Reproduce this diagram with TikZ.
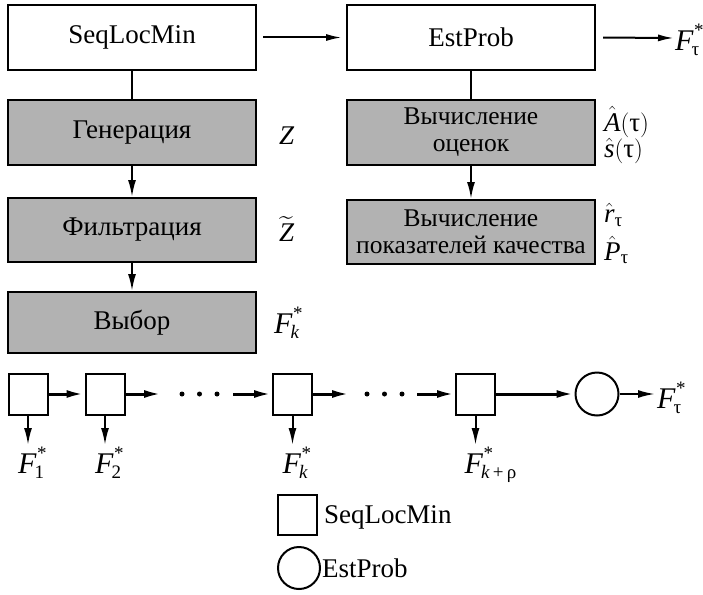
\documentclass[tikz,border=0pt]{standalone}
\usepackage{amsmath}
\usepackage{fontspec}
\setmainfont{Liberation Serif}
\usetikzlibrary{arrows.meta}
\definecolor{boxgray}{gray}{0.70}
\newcommand\scr[1]{{\fontsize{19}{19}\selectfont #1}}
\newcommand\Fst[1]{\fontsize{30}{30}\selectfont\textit{F}\kern-2pt\rlap{\kern2.5pt\raisebox{14pt}{\scr{*}}}\raisebox{-5pt}{\scr{#1}}}
\begin{document}
\begin{tikzpicture}[x=1pt,y=-1pt,
  line width=2pt,
  >={Latex[length=16pt,width=7pt]},
  txt/.style={font=\fontsize{27}{27}\selectfont},
  box/.style={txt, draw, rectangle, minimum width=248pt, inner sep=0pt, align=center},
  wbox/.style={box, fill=white},
  gbox/.style={box, fill=boxgray},
  gbox2/.style={gbox, font=\fontsize{25.5}{27}\selectfont},
  lab/.style={txt, anchor=west, inner sep=0pt},
  sq/.style={draw, rectangle, minimum width=39pt, minimum height=41pt, inner sep=0pt},
  circ/.style={draw, circle, minimum size=43pt, inner sep=0pt},
  dotn/.style={fill, circle, minimum size=5pt, inner sep=0pt},
  rowarr/.style={->, line width=3pt, >={Latex[length=18pt,width=8pt]}},
  downarr/.style={->, line width=2pt, >={Latex[length=17pt,width=8pt]}}]
\useasboundingbox (0,0) rectangle (703,594);

% top row
\node[wbox, minimum height=65pt] (seq) at (132,37.5) {SeqLocMin};
\node[wbox, minimum height=65pt] (est) at (471,37.5) {EstProb};
\coordinate (ftopc) at (674,38);
\node[anchor=west, inner sep=0pt] (ftop) at (674,40) {\Fst{τ}};
\draw[->, shorten <=6pt, shorten >=4pt] (seq) -- (est);
\draw[->, shorten <=7pt] (est.east) -- (ftopc);

% left column
\node[gbox, minimum height=65pt] (gen) at (132,132.5) {Генерация};
\node[gbox, minimum height=64pt] (filt) at (132,230) {Фильтрация};
\node[gbox, minimum height=61pt] (vyb) at (132,322.5) {Выбор};
\draw (seq) -- (gen);
\draw[downarr] (gen) -- (filt);
\draw[downarr] (filt) -- (vyb);
\node[lab] (zl) at (278,136) {$\textit{Z}$};
\node[lab] (ztl) at (278,229) {$\widetilde{\textit{Z}}$};
\node[anchor=west, inner sep=0pt] (fkl) at (273,323) {\Fst{\textit{k}}};

% right column
\node[gbox2, minimum height=65pt] (ocen) at (471,132.5) {\raisebox{-3pt}{\parbox{240pt}{\centering Вычисление\\оценок}}};
\node[gbox2, minimum height=64pt] (pokaz) at (471,232) {\raisebox{-3pt}{\parbox{246pt}{\centering Вычисление\\показателей качества}}};
\draw (est) -- (ocen);
\draw[downarr] (ocen) -- (pokaz);
\node[lab] (al) at (603,122) {$\hat{\textit{A}}(\text{τ})$};
\node[lab] (sl) at (603,151) {$\hat{\textit{s}}(\text{τ})$};
\node[lab] (rl) at (603,215) {$\hat{\textit{r}}_{\text{τ}}$};
\node[lab] (pl) at (603,250) {$\hat{\textit{P}}_{\text{τ}}$};

% bottom row
\node[sq] (s1) at (28,394) {};
\node[sq] (s2) at (105,394) {};
\node[sq] (s3) at (292.5,394) {};
\node[sq] (s4) at (475.5,394) {};
\node[circ] (c1) at (597,394) {};
\coordinate (a2e) at (162,394);
\coordinate (a3s) at (233,394);
\coordinate (a3e) at (350,394);
\coordinate (a4s) at (417,394);
\coordinate (a5e) at (655,394);
\node[dotn] (d1) at (182,394) {};
\node[dotn] (d2) at (199.5,394) {};
\node[dotn] (d3) at (217,394) {};
\node[dotn] (d4) at (367,394) {};
\node[dotn] (d5) at (384.5,394) {};
\node[dotn] (d6) at (402,394) {};
\draw[rowarr] (s1) -- (s2);
\draw[rowarr] (s2) -- (a2e);
\draw[rowarr] (a3s) -- (s3);
\draw[rowarr] (s3) -- (a3e);
\draw[rowarr] (a4s) -- (s4);
\draw[rowarr] (s4) -- (c1);
\draw[downarr] (c1) -- (a5e);
\node[anchor=west, inner sep=0pt] (fbot) at (656,398) {\Fst{τ}};

% down arrows
\coordinate (b1) at (28,445);
\coordinate (b2) at (105,445);
\coordinate (b3) at (292.5,445);
\coordinate (b4) at (475.5,445);
\draw[downarr] (s1) -- (b1);
\draw[downarr] (s2) -- (b2);
\draw[downarr] (s3) -- (b3);
\draw[downarr] (s4) -- (b4);
\node[anchor=north west, inner sep=0pt] (f1) at (17,446) {\Fst{1}};
\node[anchor=north west, inner sep=0pt] (f2) at (94,446) {\Fst{2}};
\node[anchor=north west, inner sep=0pt] (fk) at (281.5,446) {\Fst{\textit{k}}};
\node[anchor=north west, inner sep=0pt] (fkr) at (463.5,446) {\Fst{\textit{k}\,+\,ρ}};

% legend
\node[sq, minimum width=39pt, minimum height=40pt] (lsq) at (297.5,515) {};
\node[lab] (lsqt) at (323,517) {SeqLocMin};
\node[circ, minimum size=42pt] (lci) at (299,568) {};
\node[lab] (lcit) at (321,568) {EstProb};
\end{tikzpicture}
\end{document}
